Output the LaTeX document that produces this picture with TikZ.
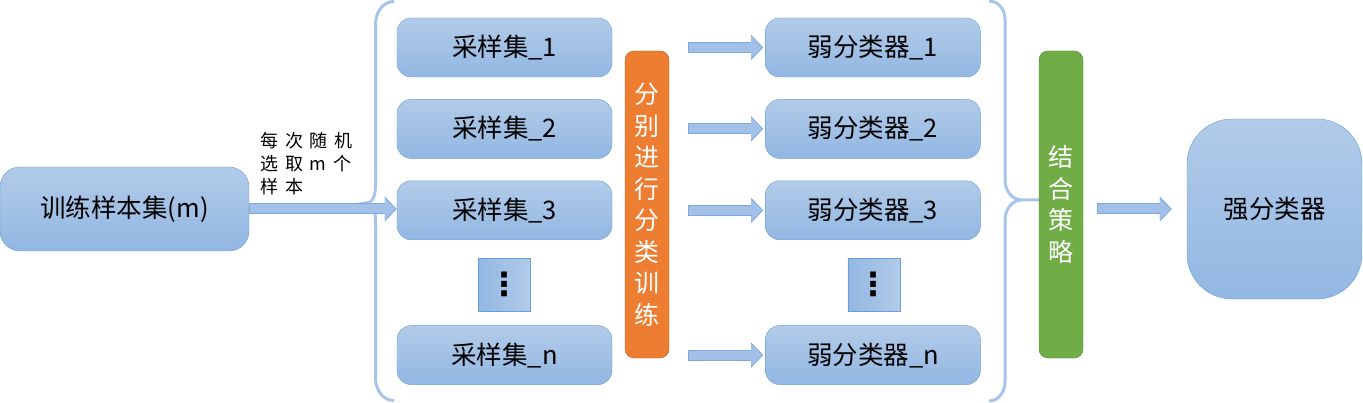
\documentclass[tikz,border=0pt]{standalone}
\usepackage{fontspec}
\setmainfont{Noto Sans CJK SC}
\newfontfamily\pickfont[WordSpace=1.7]{Noto Sans CJK SC}
\newfontfamily\dotfont{DejaVu Sans}
\usetikzlibrary{positioning,chains,calc,arrows.meta}

\definecolor{boxtop}{RGB}{178,203,233}
\definecolor{boxbot}{RGB}{146,183,226}
\definecolor{boxline}{RGB}{106,159,214}
\definecolor{arrfill}{RGB}{163,193,232}
\definecolor{arrline}{RGB}{125,168,220}
\definecolor{bracecol}{RGB}{167,196,234}
\definecolor{trainorange}{RGB}{237,125,49}
\definecolor{trainline}{RGB}{176,96,40}
\definecolor{combgreen}{RGB}{112,173,71}
\definecolor{combline}{RGB}{80,126,50}

\begin{document}
\begin{tikzpicture}[x=1pt,y=1pt,
  every node/.style={inner sep=0pt},
  Bbox/.style={rounded corners=14pt,draw=boxline,top color=boxtop,bottom color=boxbot,font=\fontsize{25.5}{30}\selectfont},
  Sbox/.style={Bbox,minimum width=215pt,minimum height=59pt},
  Dbox/.style={draw=boxline,left color=boxbot,right color=boxtop,minimum width=52pt,minimum height=53pt,font=\dotfont\bfseries\fontsize{32}{36}\selectfont},
  Vbar/.style={rounded corners=9pt,minimum width=44pt,minimum height=307pt,text=white,align=center,font=\fontsize{25}{31.5}\selectfont},
  Barrow/.style={arrline,line width=11pt,-{Triangle[width=25pt,length=12pt,line width=0pt]}},
  Barrowin/.style={arrfill,line width=9pt,shorten >=1.4pt,shorten <=1pt,-{Triangle[width=22pt,length=10.6pt,line width=0pt]}},
  Brace/.style={bracecol,line width=3pt}
]
\useasboundingbox (0,0) rectangle (1363,402);

% the braces
\draw[Brace] (394,400.5) to[out=180,in=90] (375.5,378) -- (375.5,218) to[out=-90,in=0] (366,199)
  to[out=0,in=90] (375.5,180) -- (375.5,24) to[out=-90,in=180] (394,1.5);
\draw[Brace] (989,401) to[out=0,in=90] (1005,383) -- (1005,222) to[out=-90,in=180] (1022,202) -- (1039,202)
  (1022,202) to[out=180,in=90] (1005,182) -- (1005,20) to[out=-90,in=0] (989,1);

% the training set
\node[Bbox,minimum width=249pt,minimum height=84pt,rounded corners=20pt] (train) at (124.5,193) {训练样本集(m)};
\node[font=\pickfont\fontsize{18}{23}\selectfont,align=left,anchor=west] (pick) at (260,238) {每 次 随 机\\选 取 m 个\\样 本};

% the sample sets
\begin{scope}[shift={(504.5,354.5)},start chain=going below,node distance=22pt]
\foreach \i in {1,2,3}
  \node[Sbox,on chain] (s\i) {采样集\_\i};
\end{scope}
\node[Dbox,below=18pt of s3] (sdots) {⋮};
\node[Sbox,below=14pt of sdots] (sn) {采样集\_n};

% the weak classifiers
\foreach \i in {1,2,3,n}
  \node[Sbox,right=153pt of s\i] (w\i) {弱分类器\_\i};
\node[Dbox,right=317pt of sdots] (wdots) {⋮};

% the bars
\node[Vbar,fill=trainorange,draw=trainline] (trainbar) at (647,197.5) {分\\别\\进\\行\\分\\类\\训\\练};
\node[Vbar,fill=combgreen,draw=combline] (combbar) at (1061,197.5) {结\\合\\策\\略};

% the strong classifier
\node[Bbox,minimum width=175pt,minimum height=180pt,rounded corners=45pt] (strong) at (1274.5,193) {强分类器};

% the arrows
\draw[Barrow] (train.east) -- (train.east -| s3.west);
\draw[Barrowin] (train.east) -- (train.east -| s3.west);
\foreach \i in {1,2,3,n} {
  \draw[Barrow] ($(trainbar.east |- w\i)+(19pt,0)$) -- ($(w\i.west)+(-2pt,0)$);
  \draw[Barrowin] ($(trainbar.east |- w\i)+(19pt,0)$) -- ($(w\i.west)+(-2pt,0)$);
}
\draw[Barrow] ($(combbar.east |- strong)+(14pt,0)$) -- ($(strong.west)+(-15pt,0)$);
\draw[Barrowin] ($(combbar.east |- strong)+(14pt,0)$) -- ($(strong.west)+(-15pt,0)$);

\end{tikzpicture}
\end{document}
